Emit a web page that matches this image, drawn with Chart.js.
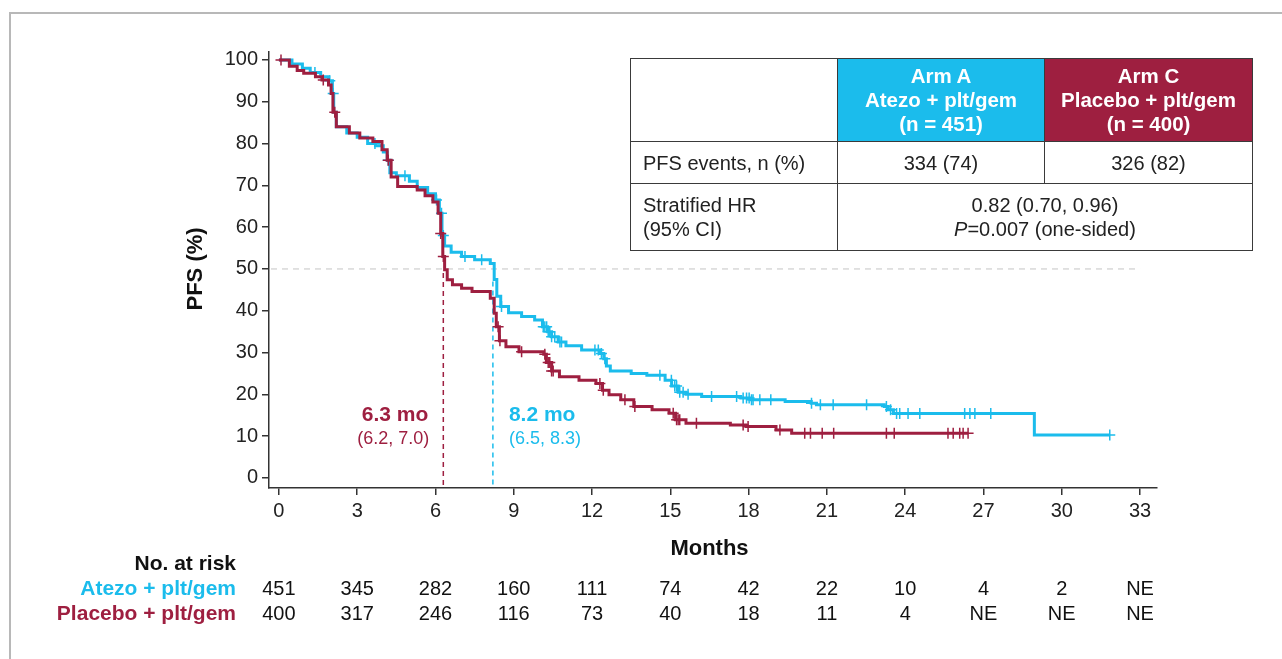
<!DOCTYPE html>
<html>
<head>
<meta charset="utf-8">
<script src="https://cdn.jsdelivr.net/npm/chart.js@4.4.0/dist/chart.umd.min.js"></script>
<style>
  body { margin: 0; background: #fff; font-family: "Liberation Sans", Arial, sans-serif; }
  #wrap { position: relative; width: 1282px; height: 659px; overflow: hidden; }
  #frame { position: absolute; left: 9px; top: 12px; width: 1300px; height: 700px; border-top: 2px solid #b8b8b8; border-left: 2px solid #b8b8b8; }
  #cnv { position: absolute; left: 0; top: 0; }
  #tbl { position: absolute; left: 630px; top: 58px; border-collapse: collapse; table-layout: fixed; font-size: 20px; color: #222; }
  #tbl td { border: 1px solid #3a3a3a; padding: 0 12px; line-height: 24px; }
  #tbl .hd { color: #fff; font-weight: bold; text-align: center; font-size: 20.5px; }
  #tbl .c { text-align: center; }
</style>
</head>
<body>
<div id="wrap">
  <div id="frame"></div>
  <canvas id="cnv" width="1282" height="659"></canvas>
  <table id="tbl">
    <tr style="height:83px">
      <td style="width:182px"></td>
      <td class="hd" style="width:182px; background:#1bbcec">Arm A<br>Atezo + plt/gem<br>(n = 451)</td>
      <td class="hd" style="width:183px; background:#9e1f40">Arm C<br>Placebo + plt/gem<br>(n = 400)</td>
    </tr>
    <tr style="height:42px">
      <td>PFS events, n (%)</td>
      <td class="c">334 (74)</td>
      <td class="c">326 (82)</td>
    </tr>
    <tr style="height:67px">
      <td>Stratified HR<br>(95% CI)</td>
      <td class="c" colspan="2">0.82 (0.70, 0.96)<br><i>P</i>=0.007 (one-sided)</td>
    </tr>
  </table>
</div>
<script>
// colours
var blue = '#1bbcec';
var red = '#9e1f40';

// axis ticks
var monthTicks = [0, 3, 6, 9, 12, 15, 18, 21, 24, 27, 30, 33];
var pfsTicks = [0, 10, 20, 30, 40, 50, 60, 70, 80, 90, 100];

// Arm A - Atezo + plt/gem : time of each step (months) and PFS (%) after it
var atezoT = [0, 0.5, 0.9, 1.2, 1.6, 1.9, 2.05, 2.1, 2.2, 2.6, 3.0, 3.4, 3.7, 4.0, 4.15, 4.25, 4.5, 5.0, 5.3, 5.7,
  6.0, 6.15, 6.25, 6.35, 6.6, 7.0, 7.5, 8.1, 8.25, 8.35, 8.5, 8.8, 9.3, 9.8, 10.1, 10.3, 10.45, 10.7, 11.0, 11.6,
  12.3, 12.45, 12.55, 12.7, 13.5, 14.1, 14.8, 15.05, 15.3, 15.6, 16.2, 17.7, 18.1, 19.4, 20.4, 20.6, 23.2, 23.35,
  23.55, 28.95, 31.84];
var atezoS = [100, 99, 98, 97, 96, 95, 92, 87.5, 84, 82.5, 81.5, 80, 79.5, 78, 76, 73, 72.3, 71, 69.5, 68,
  66.5, 63.3, 58, 55.5, 54, 53, 52.2, 51.3, 47.5, 43.5, 41, 39.5, 38.6, 37.8, 36.2, 35, 33.8, 32.5, 31.6, 30.6,
  29.8, 28.5, 26.8, 25.6, 25, 24.6, 23.4, 22, 20.5, 20, 19.5, 19.1, 18.7, 18.3, 17.9, 17.5, 17.1, 16.3,
  15.4, 10.3, 10.3];
var atezoCens = [1.38, 1.95, 2.08, 3.68, 4.19, 4.83, 6.04, 6.23, 6.3, 7.13, 7.77, 8.53, 10.13, 10.19, 10.26, 10.32,
  10.38, 10.45, 10.57, 10.77, 10.83, 12.11, 12.24, 12.36, 12.49, 14.6, 15.04, 15.17, 15.24, 15.36, 15.49, 15.68,
  16.58, 17.54, 17.79, 17.92, 18.02, 18.11, 18.17, 18.43, 18.85, 20.41, 20.75, 21.24, 22.52, 23.28, 23.44, 23.67,
  23.79, 24.11, 24.56, 26.28, 26.48, 26.67, 27.28, 31.84];

// Arm C - Placebo + plt/gem
var placT = [0, 0.4, 0.7, 0.95, 1.4, 1.65, 1.9, 2.0, 2.07, 2.2, 2.7, 3.1, 3.6, 3.95, 4.15, 4.3, 4.55, 5.3, 5.6, 5.9,
  6.1, 6.2, 6.28, 6.35, 6.45, 6.65, 7.0, 7.4, 8.1, 8.25, 8.33, 8.45, 8.7, 9.2, 10.15, 10.25, 10.45, 10.75, 11.5,
  12.15, 12.4, 12.65, 13.1, 13.6, 14.3, 14.95, 15.2, 15.6, 17.3, 17.9, 19.05, 19.65, 26.41];
var placS = [100, 98.5, 97.5, 96.8, 96, 95.2, 94, 92, 87.5, 84, 82.5, 81.3, 80.5, 78.5, 76, 72, 69.7, 68.9, 67.5, 66,
  63.3, 58.5, 53, 49.8, 47.4, 46.2, 45.4, 44.6, 43, 39.4, 36.2, 32.8, 31.4, 30.2, 29.6, 27.6, 25.6, 24.2, 23.4,
  22.6, 21, 19.9, 18.7, 17.1, 16.3, 15.5, 13.9, 13.1, 12.7, 12.3, 11.5, 10.7, 10.7];
var placCens = [0.08, 1.7, 2.14, 4.19, 6.2, 6.3, 8.4, 8.47, 9.3, 10.19, 10.32, 10.38, 10.45, 10.51, 12.3, 12.43, 13.26,
  13.64, 15.11, 15.24, 15.3, 15.36, 16.0, 17.79, 17.98, 19.2, 20.15, 20.37, 20.82, 21.26, 23.28, 23.58, 25.64,
  25.84, 26.09, 26.22, 26.41];

// medians
var medAtezo = 8.2, medAtezoCI = '(6.5, 8.3)';
var medPlac = 6.3, medPlacCI = '(6.2, 7.0)';

// number at risk
var riskAtezo = ['451', '345', '282', '160', '111', '74', '42', '22', '10', '4', '2', 'NE'];
var riskPlac = ['400', '317', '246', '116', '73', '40', '18', '11', '4', 'NE', 'NE', 'NE'];

function stepAt(T, S, t) {
  var v = S[0];
  for (var i = 0; i < T.length; i++) { if (T[i] <= t) v = S[i]; }
  return v;
}
function curve(T, S) { return T.map(function(t, i) { return { x: t, y: S[i] }; }); }
function cens(T, S, C) { return C.map(function(t) { return { x: t, y: stepAt(T, S, t) }; }); }

var FONT = '"Liberation Sans", Arial, sans-serif';

var extras = {
  id: 'extras',
  beforeDatasetsDraw: function(chart) {
    var ctx = chart.ctx, xs = chart.scales.x, ys = chart.scales.y;
    var y50 = ys.getPixelForValue(50), y0 = chart.chartArea.bottom;
    ctx.save();
    ctx.lineWidth = 1;
    ctx.setLineDash([6, 5]);
    ctx.strokeStyle = '#c4c4c4';
    ctx.beginPath(); ctx.moveTo(chart.chartArea.left + 2, y50); ctx.lineTo(xs.getPixelForValue(33), y50); ctx.stroke();
    ctx.lineWidth = 1.5;
    ctx.setLineDash([5, 4]);
    ctx.strokeStyle = red;
    var xr = xs.getPixelForValue(medPlac);
    ctx.beginPath(); ctx.moveTo(xr, y50 + 4); ctx.lineTo(xr, y0); ctx.stroke();
    ctx.strokeStyle = blue;
    var xb = xs.getPixelForValue(medAtezo);
    ctx.beginPath(); ctx.moveTo(xb, ys.getPixelForValue(47)); ctx.lineTo(xb, y0); ctx.stroke();
    ctx.restore();
  },
  afterDraw: function(chart) {
    var ctx = chart.ctx, xs = chart.scales.x, ys = chart.scales.y;
    ctx.save();
    ctx.textBaseline = 'middle';
    // median labels
    var xr = xs.getPixelForValue(medPlac), xb = xs.getPixelForValue(medAtezo);
    ctx.fillStyle = red; ctx.textAlign = 'right';
    ctx.font = 'bold 21px ' + FONT; ctx.fillText(medPlac + ' mo', xr - 15, 415);
    ctx.font = '18px ' + FONT; ctx.fillText(medPlacCI, xr - 14, 439);
    ctx.fillStyle = blue; ctx.textAlign = 'left';
    ctx.font = 'bold 21px ' + FONT; ctx.fillText(medAtezo + ' mo', xb + 16, 415);
    ctx.font = '18px ' + FONT; ctx.fillText(medAtezoCI, xb + 16, 439);
    // axis titles
    ctx.fillStyle = '#111'; ctx.textAlign = 'center';
    ctx.font = 'bold 22px ' + FONT;
    ctx.fillText('Months', (xs.getPixelForValue(0) + xs.getPixelForValue(33)) / 2, 549);
    ctx.save();
    ctx.translate(196, ys.getPixelForValue(50));
    ctx.rotate(-Math.PI / 2);
    ctx.fillText('PFS (%)', 0, 0);
    ctx.restore();
    // number at risk
    ctx.textAlign = 'right';
    ctx.font = 'bold 21px ' + FONT;
    ctx.fillStyle = '#111'; ctx.fillText('No. at risk', 236, 564);
    ctx.fillStyle = blue; ctx.fillText('Atezo + plt/gem', 236, 589);
    ctx.fillStyle = red; ctx.fillText('Placebo + plt/gem', 236, 614);
    ctx.textAlign = 'center';
    ctx.font = '20px ' + FONT;
    ctx.fillStyle = '#111';
    for (var i = 0; i < monthTicks.length; i++) {
      var x = xs.getPixelForValue(monthTicks[i]);
      ctx.fillText(riskAtezo[i], x, 589);
      ctx.fillText(riskPlac[i], x, 614);
    }
    ctx.restore();
  }
};

var cnv = document.getElementById('cnv').getContext('2d');
var kmChart = new Chart(cnv, {
  type: 'line',
  data: {
    datasets: [
      { label: 'Atezo + plt/gem', data: curve(atezoT, atezoS), stepped: 'before', borderColor: blue, borderWidth: 3,
        pointRadius: 0, fill: false, order: 4 },
      { label: 'Atezo censored', data: cens(atezoT, atezoS, atezoCens), showLine: false, pointStyle: 'cross',
        pointRadius: 5.5, pointBorderWidth: 1.5, borderColor: blue, order: 3 },
      { label: 'Placebo + plt/gem', data: curve(placT, placS), stepped: 'before', borderColor: red, borderWidth: 3,
        pointRadius: 0, fill: false, order: 2 },
      { label: 'Placebo censored', data: cens(placT, placS, placCens), showLine: false, pointStyle: 'cross',
        pointRadius: 5.5, pointBorderWidth: 1.5, borderColor: red, order: 1 }
    ]
  },
  options: {
    responsive: false,
    animation: false,
    devicePixelRatio: 1,
    layout: { padding: { left: 180, right: 125, top: 52, bottom: 0 } },
    plugins: { legend: { display: false }, tooltip: { enabled: false } },
    scales: {
      x: {
        type: 'linear', min: -0.38, max: 33.65,
        afterBuildTicks: function(s) { s.ticks = monthTicks.map(function(v) { return { value: v }; }); },
        afterFit: function(s) { s.height = 171; },
        grid: { drawOnChartArea: false, drawTicks: true, tickLength: 7, color: '#333', lineWidth: 1.5 },
        border: { display: true, color: '#333', width: 1.5 },
        ticks: { color: '#222', font: { family: FONT, size: 20 }, padding: 4, maxRotation: 0, autoSkip: false }
      },
      y: {
        type: 'linear', min: -2.4, max: 101.9,
        afterBuildTicks: function(s) { s.ticks = pfsTicks.map(function(v) { return { value: v }; }); },
        afterFit: function(s) { s.width = 89; },
        grid: { drawOnChartArea: false, drawTicks: true, tickLength: 7, color: '#333', lineWidth: 1.5 },
        border: { display: true, color: '#333', width: 1.5 },
        ticks: { color: '#222', font: { family: FONT, size: 20 }, padding: 4, autoSkip: false }
      }
    }
  },
  plugins: [extras]
});
</script>
</body>
</html>
